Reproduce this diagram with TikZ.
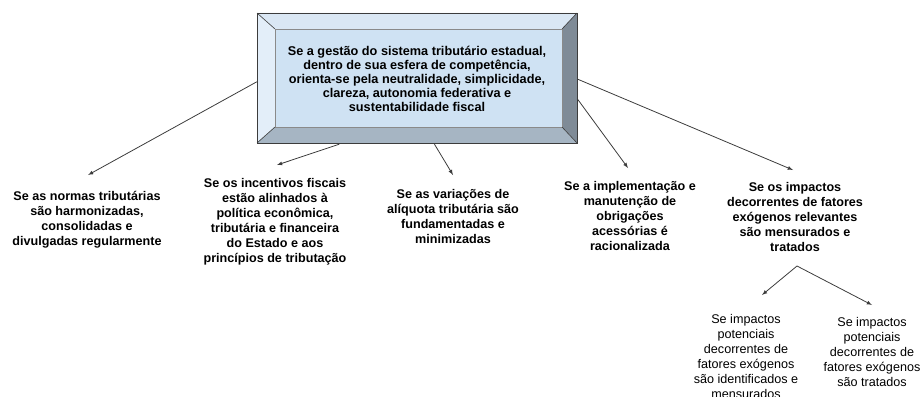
\documentclass[tikz,border=0pt]{standalone}
\usepackage{fontspec}
\setmainfont{Liberation Sans}

\definecolor{faceblue}{HTML}{CFE2F3}
\definecolor{topblue}{HTML}{DAE7F4}
\definecolor{leftblue}{HTML}{E3EEF9}
\definecolor{rightgrey}{HTML}{7F8B97}
\definecolor{bottomgrey}{HTML}{A6B5C3}
\definecolor{linegrey}{HTML}{3C3C3C}

\begin{document}
\begin{tikzpicture}[x=1pt, y=-1pt,
  txt/.style={anchor=north, align=center, inner sep=0pt,
    font=\fontsize{12.6}{15}\selectfont\bfseries},
  txtlight/.style={txt, font=\fontsize{12.6}{15}\selectfont},
  link/.style={draw=linegrey, line width=0.8pt, -latex}]
\clip (0,0) rectangle (923,396);

% bevelled box
\coordinate (otl) at (257,13);
\coordinate (otr) at (577,13);
\coordinate (obr) at (577,143);
\coordinate (obl) at (257,143);
\coordinate (itl) at (275,29);
\coordinate (itr) at (562,29);
\coordinate (ibr) at (562,127);
\coordinate (ibl) at (275,127);
\fill[topblue] (otl)--(otr)--(itr)--(itl)--cycle;
\fill[leftblue] (otl)--(itl)--(ibl)--(obl)--cycle;
\fill[rightgrey] (otr)--(obr)--(ibr)--(itr)--cycle;
\fill[bottomgrey] (obl)--(ibl)--(ibr)--(obr)--cycle;
\fill[faceblue] (itl) rectangle (ibr);
\draw[linegrey!60, line width=0.5pt] (itl) rectangle (ibr);
\draw[linegrey, line width=0.8pt] (otl) rectangle (obr);
\draw[linegrey, line width=0.6pt] (otl)--(itl) (otr)--(itr) (obr)--(ibr) (obl)--(ibl);
\node[txt, anchor=center, minimum width=320pt, minimum height=130pt,
  font=\fontsize{12.7}{14}\selectfont\bfseries] (goal) at (417,79)
  {Se a gestão do sistema tributário estadual,\\dentro de sua esfera de competência,\\orienta-se pela neutralidade, simplicidade,\\clareza, autonomia federativa e\\sustentabilidade fiscal};

% criteria
\node[txt] (norms) at (87,191) {Se as normas tributárias\\são harmonizadas,\\consolidadas e\\divulgadas regularmente};
\node[txt] (incent) at (275,178) {Se os incentivos fiscais\\estão alinhados à\\política econômica,\\tributária e financeira\\do Estado e aos\\princípios de tributação};
\node[txt] (rates) at (453,189) {Se as variações de\\alíquota tributária são\\fundamentadas e\\minimizadas};
\node[txt] (duties) at (630,181) {Se a implementação e\\manutenção de\\obrigações\\acessórias é\\racionalizada};
\node[txt] (impact) at (795,182) {Se os impactos\\decorrentes de fatores\\exógenos relevantes\\são mensurados e\\tratados};
\node[txtlight] (measure) at (746,314) {Se impactos\\potenciais\\decorrentes de\\fatores exógenos\\são identificados e\\mensurados};
\node[txtlight] (treat) at (872,317) {Se impactos\\potenciais\\decorrentes de\\fatores exógenos\\são tratados};

\draw[link] (goal.181) -- ([xshift=1pt, yshift=16pt]norms.north);
\draw[link] (goal.-140) -- ([xshift=2pt, yshift=13pt]incent.north);
\draw[link] (goal.-75) -- ([yshift=14pt]rates.north);
\draw[link] (goal.-7) -- ([xshift=-2pt, yshift=13pt]duties.north);
\draw[link] (goal.0) -- ([xshift=-2pt, yshift=12pt]impact.north);

\coordinate (split) at (797,266);
\draw[link] (split) -- ([xshift=16pt, yshift=19pt]measure.north);
\draw[link] (split) -- ([yshift=12pt]treat.north);
\end{tikzpicture}
\end{document}
